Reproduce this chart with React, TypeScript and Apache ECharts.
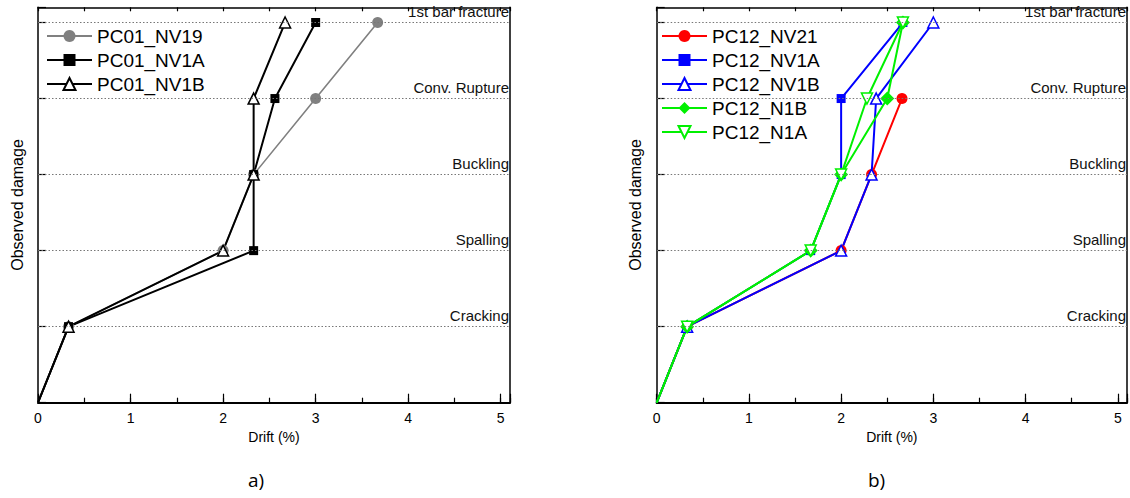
import React, { useEffect, useRef } from "react";
import * as echarts from "echarts";

// ---- data ----
const damageLevels = [1, 2, 3, 4, 5];
const damageNames = ["Cracking", "Spalling", "Buckling", "Conv. Rupture", "1st bar fracture"];
const xTickLabels = [0, 1, 2, 3, 4, 5];
const panelLabels = ["a)", "b)"];

// panel a)
const pc01Nv19 = [[0, 0], [0.33, 1], [2, 2], [2.33, 3], [3, 4], [3.67, 5]];
const pc01Nv1a = [[0, 0], [0.33, 1], [2.33, 2], [2.33, 3], [2.56, 4], [3, 5]];
const pc01Nv1b = [[0, 0], [0.33, 1], [2, 2], [2.33, 3], [2.33, 4], [2.67, 5]];
// panel b)
const pc12Nv21 = [[0, 0], [0.33, 1], [2, 2], [2.33, 3], [2.66, 4]];
const pc12Nv1a = [[0, 0], [0.33, 1], [1.67, 2], [2, 3], [2, 4], [2.67, 5]];
const pc12Nv1b = [[0, 0], [0.33, 1], [2, 2], [2.33, 3], [2.38, 4], [3, 5]];
const pc12N1b = [[0, 0], [0.33, 1], [1.67, 2], [2, 3], [2.5, 4], [2.67, 5]];
const pc12N1a = [[0, 0], [0.33, 1], [1.67, 2], [2, 3], [2.28, 4], [2.67, 5]];

const FONT = "'Liberation Sans', Arial, sans-serif";
const NARROW = "'Liberation Sans Narrow', 'Liberation Sans', Arial, sans-serif";

const GRID_TOP = 7.3;
const GRID_H = 395.4;
const GRID_W = 472;
const GRID_LEFTS = [38, 656.7];

function toData(pts: number[][]) {
  return pts.map((p, i) => (i === 0 ? { value: p, symbol: "none" } : p));
}

function makeSeries(
  name: string,
  pts: number[][],
  g: number,
  color: string,
  symbol: string,
  size: number,
  open: boolean,
  width: number,
  rotate = 0
) {
  return {
    type: "line",
    name,
    xAxisIndex: g * 3,
    yAxisIndex: g * 2,
    data: toData(pts),
    symbol,
    symbolSize: size,
    symbolRotate: rotate,
    showAllSymbol: true,
    lineStyle: { color, width },
    itemStyle: open
      ? { color: "#ffffff", borderColor: color, borderWidth: 1.5 }
      : { color, borderColor: color, borderWidth: 0 },
    emphasis: { disabled: true },
    silent: true,
    z: 3,
  };
}

function levelMarkLine() {
  return {
    silent: true,
    symbol: ["none", "none"],
    animation: false,
    lineStyle: { type: [1.5, 2], color: "#777", width: 1 },
    label: {
      show: true,
      position: "insideEndTop",
      formatter: "{b}",
      distance: [1, 4],
      fontSize: 15,
      fontFamily: FONT,
      color: "#111",
    },
    emphasis: { disabled: true },
    data: damageLevels.map((y, i) => ({ yAxis: y, name: damageNames[i] })),
  };
}

function App() {
  const ref = useRef<HTMLDivElement>(null);
  useEffect(() => {
    if (!ref.current) return;
    const chart = echarts.init(ref.current, undefined, { renderer: "svg" });

    const grids = GRID_LEFTS.map((l) => ({ left: l, top: GRID_TOP, width: GRID_W, height: GRID_H, show: false }));
    const xAxis: any[] = [];
    const yAxis: any[] = [];
    GRID_LEFTS.forEach((_, g) => {
      xAxis.push({
        type: "value",
        gridIndex: g,
        min: 0,
        max: 5.1,
        interval: 1,
        position: "bottom",
        axisLine: { show: true, onZero: false, lineStyle: { color: "#000", width: 2 } },
        axisTick: { show: true, inside: true, length: 9, lineStyle: { color: "#000", width: 1.2 } },
        axisLabel: {
          show: true,
          margin: 8,
          fontSize: 14,
          fontFamily: NARROW,
          color: "#000",
          formatter: (v: number) => (xTickLabels.includes(v) ? String(v) : ""),
        },
        splitLine: { show: false },
        name: "Drift (%)",
        nameLocation: "middle",
        nameGap: 24,
        nameTextStyle: { fontSize: 14, fontFamily: NARROW, color: "#000" },
      });
      xAxis.push({
        type: "value",
        gridIndex: g,
        min: 0,
        max: 5.1,
        interval: 0.5,
        position: "bottom",
        axisLine: { show: false, onZero: false },
        axisTick: { show: true, inside: true, length: 5, lineStyle: { color: "#000", width: 1.2 } },
        axisLabel: { show: false },
        splitLine: { show: false },
      });
      xAxis.push({
        type: "value",
        gridIndex: g,
        min: 0,
        max: 5.1,
        interval: 0.5,
        position: "top",
        axisLine: { show: true, onZero: false, lineStyle: { color: "#000", width: 1.5 } },
        axisTick: { show: true, inside: true, length: 4, lineStyle: { color: "#000", width: 1.2 } },
        axisLabel: { show: false },
        splitLine: { show: false },
      });
      yAxis.push({
        type: "value",
        gridIndex: g,
        min: 0,
        max: 5.2,
        interval: 1,
        position: "left",
        axisLine: { show: true, onZero: false, lineStyle: { color: "#000", width: 1.5 } },
        axisTick: { show: true, inside: true, length: 8, lineStyle: { color: "#000", width: 1.2 } },
        axisLabel: { show: false },
        splitLine: { show: false },
        name: "Observed damage",
        nameLocation: "middle",
        nameGap: 13,
        nameTextStyle: { fontSize: 16, fontFamily: FONT, color: "#000" },
      });
      yAxis.push({
        type: "value",
        gridIndex: g,
        min: 0,
        max: 5.2,
        interval: 1,
        position: "right",
        axisLine: { show: true, onZero: false, lineStyle: { color: "#000", width: 1.5 } },
        axisTick: { show: false },
        axisLabel: { show: false },
        splitLine: { show: false },
      });
    });

    const sA1: any = makeSeries("PC01_NV19", pc01Nv19, 0, "#808080", "circle", 11, false, 1.6);
    sA1.markLine = levelMarkLine();
    const sA2 = makeSeries("PC01_NV1A", pc01Nv1a, 0, "#000000", "rect", 9, false, 2);
    const sA3 = makeSeries("PC01_NV1B", pc01Nv1b, 0, "#000000", "triangle", 11, true, 2);

    const sB1: any = makeSeries("PC12_NV21", pc12Nv21, 1, "#ff0000", "circle", 11, false, 2);
    sB1.markLine = levelMarkLine();
    const sB2 = makeSeries("PC12_NV1A", pc12Nv1a, 1, "#0000ff", "rect", 9, false, 2);
    const sB3 = makeSeries("PC12_NV1B", pc12Nv1b, 1, "#0000ff", "triangle", 11, true, 2);
    const sB4 = makeSeries("PC12_N1B", pc12N1b, 1, "#00f000", "diamond", 14, false, 2);
    const sB5 = makeSeries("PC12_N1A", pc12N1a, 1, "#00f000", "triangle", 11, true, 2, 180);

    const legendBase = {
      orient: "vertical",
      top: 26,
      padding: 0,
      itemWidth: 45,
      itemHeight: 15,
      itemGap: 4,
      selectedMode: false,
      textStyle: { fontSize: 19, fontFamily: FONT, color: "#000", lineHeight: 20 },
    };

    chart.setOption({
      animation: false,
      grid: grids,
      xAxis,
      yAxis,
      legend: [
        { ...legendBase, left: 46, data: ["PC01_NV19", "PC01_NV1A", "PC01_NV1B"] },
        { ...legendBase, left: 661, data: ["PC12_NV21", "PC12_NV1A", "PC12_NV1B", "PC12_N1B", "PC12_N1A"] },
      ],
      series: [sA1, sA2, sA3, sB1, sB2, sB3, sB4, sB5],
      graphic: [
        {
          type: "text",
          left: 248,
          top: 470,
          style: { text: panelLabels[0], fontSize: 19, fontFamily: "'Open Sans', sans-serif", fill: "#000" },
        },
        {
          type: "text",
          left: 868,
          top: 470,
          style: { text: panelLabels[1], fontSize: 19, fontFamily: "'Open Sans', sans-serif", fill: "#000" },
        },
      ],
    });
    return () => chart.dispose();
  }, []);
  return (
    <div
      ref={ref}
      style={{ position: "absolute", left: 0, top: 0, width: 1130, height: 498, background: "#fff" }}
    />
  );
}

export default App;
